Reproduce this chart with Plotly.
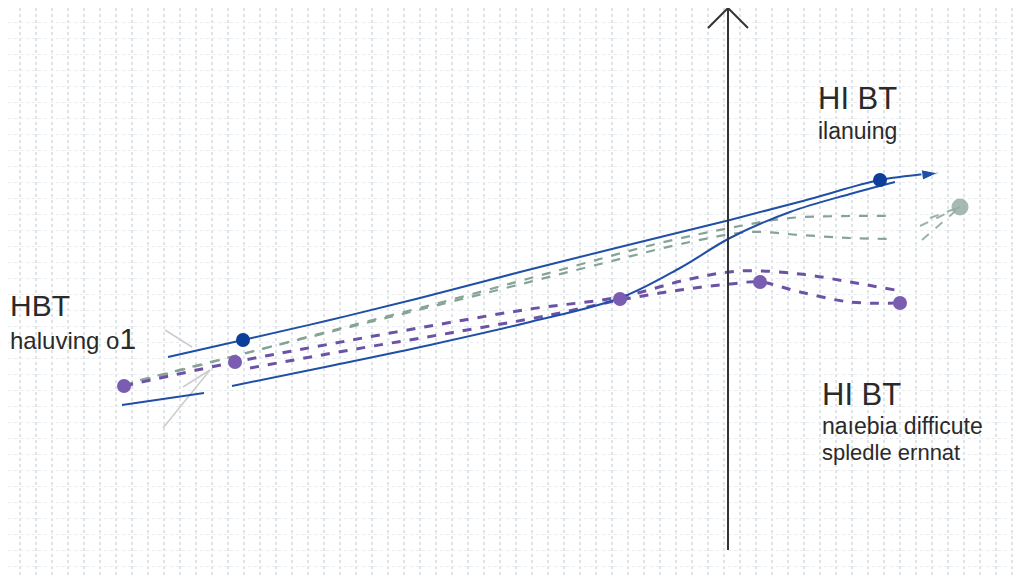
import plotly.graph_objects as go

# ---- data (x, y in chart units; y grows downward) ----
blue_upper_x = [168, 243, 330, 420, 520, 620, 730, 810, 880, 938]
blue_upper_y = [357, 340, 320, 298, 272, 247, 220, 199, 180, 173]
blue_upper_marker_x = [243, 880]
blue_upper_marker_y = [340, 180]

blue_lower_a_x = [122, 204]
blue_lower_a_y = [405, 393]
blue_lower_b_x = [232, 330, 430, 530, 620, 680, 730, 790, 850, 895]
blue_lower_b_y = [386, 366, 345, 322, 298, 268, 238, 212, 194, 182]

purple_a_x = [124, 235, 330, 430, 530, 620, 690, 740, 800, 850, 895]
purple_a_y = [386, 362, 344, 326, 309, 297, 279, 271, 274, 282, 290]
purple_b_x = [250, 350, 450, 550, 620, 680, 730, 760, 800, 850, 900]
purple_b_y = [368, 350, 333, 315, 300, 290, 284, 282, 292, 302, 303]
purple_marker_x = [124, 235, 620, 760, 900]
purple_marker_y = [386, 362, 299, 282, 303]

green_a_x = [124, 220, 330, 450, 560, 660, 740, 790, 850, 895]
green_a_y = [385, 360, 331, 300, 270, 243, 226, 218, 216, 216]
green_b_x = [140, 250, 370, 490, 600, 690, 750, 800, 850, 895]
green_b_y = [380, 352, 322, 292, 264, 242, 232, 235, 238, 239]
green_fan_x = [[922, 960], [920, 960], [930, 960]]
green_fan_y = [[240, 207], [226, 207], [218, 207]]
green_marker_x = [960]
green_marker_y = [207]

grey_ray_x = [[165, 192], [163, 210], [183, 210]]
grey_ray_y = [[330, 347], [428, 370], [387, 370]]

axis_x = [728, 728]
axis_y = [550, 8]
axis_head_x = [708, 728, 748]
axis_head_y = [28, 8, 28]

labels = [
    (8, 305, "HBT", 30),
    (8, 338, "haluving o<span style='font-size:30px'>1</span>", 24),
    (816, 98, "HI BT", 31),
    (816, 131, "ilanuing", 23),
    (820, 394, "HI BT", 31),
    (820, 426, "naıebia difficute", 23),
    (820, 452, "spledle ernnat", 22),
]

BLUE = "#1f4fa6"
BLUE_DOT = "#0b3f9a"
PURPLE = "#6b52a6"
PURPLE_DOT = "#7a5cb0"
GREEN = "#86a396"

fig = go.Figure()

# grey rays
for xs, ys in zip(grey_ray_x, grey_ray_y):
    fig.add_trace(go.Scatter(x=xs, y=ys, mode="lines",
                             line=dict(color="#cccccc", width=1.5), hoverinfo="skip"))

# green dashed
for xs, ys in [(green_a_x, green_a_y), (green_b_x, green_b_y)]:
    fig.add_trace(go.Scatter(x=xs, y=ys, mode="lines", line_shape="spline",
                             line=dict(color=GREEN, width=2.2, dash="dash"), hoverinfo="skip"))
for xs, ys in zip(green_fan_x, green_fan_y):
    fig.add_trace(go.Scatter(x=xs, y=ys, mode="lines",
                             line=dict(color="#9db3a8", width=2, dash="dash"), hoverinfo="skip"))
fig.add_trace(go.Scatter(x=green_marker_x, y=green_marker_y, mode="markers",
                         marker=dict(color="#98aea4", size=17, opacity=0.85), hoverinfo="skip"))

# purple dashed
for xs, ys in [(purple_a_x, purple_a_y), (purple_b_x, purple_b_y)]:
    fig.add_trace(go.Scatter(x=xs, y=ys, mode="lines", line_shape="spline",
                             line=dict(color=PURPLE, width=3, dash="dash"), hoverinfo="skip"))

# blue solid
fig.add_trace(go.Scatter(x=blue_upper_x, y=blue_upper_y, mode="lines", line_shape="spline",
                         line=dict(color=BLUE, width=2), hoverinfo="skip"))
fig.add_trace(go.Scatter(x=blue_upper_x[-2:], y=blue_upper_y[-2:], mode="markers",
                         marker=dict(symbol=["circle-open", "arrow"], size=[1, 17], color=BLUE,
                                     angleref="previous", opacity=1),
                         hoverinfo="skip"))
for xs, ys in [(blue_lower_a_x, blue_lower_a_y), (blue_lower_b_x, blue_lower_b_y)]:
    fig.add_trace(go.Scatter(x=xs, y=ys, mode="lines", line_shape="spline",
                             line=dict(color=BLUE, width=2), hoverinfo="skip"))

fig.add_trace(go.Scatter(x=purple_marker_x, y=purple_marker_y, mode="markers",
                         marker=dict(color=PURPLE_DOT, size=14), hoverinfo="skip"))
fig.add_trace(go.Scatter(x=blue_upper_marker_x, y=blue_upper_marker_y, mode="markers",
                         marker=dict(color=BLUE_DOT, size=14), hoverinfo="skip"))

# vertical axis arrow
fig.add_trace(go.Scatter(x=axis_x, y=axis_y, mode="lines",
                         line=dict(color="#333333", width=2), hoverinfo="skip"))
fig.add_trace(go.Scatter(x=axis_head_x, y=axis_head_y, mode="lines",
                         line=dict(color="#333333", width=2), hoverinfo="skip"))

for x, y, t, s in labels:
    fig.add_annotation(x=x, y=y, text=t, showarrow=False, xanchor="left", yanchor="middle",
                       font=dict(size=s, color="#2a2a2a", family="Liberation Sans"))

# page body has an 8px margin, so the axis ranges are offset by 8 to line up with the window
fig.update_layout(
    width=1024, height=576, margin=dict(l=0, r=0, t=0, b=0),
    paper_bgcolor="white", plot_bgcolor="white", showlegend=False,
    xaxis=dict(range=[8, 1032], showticklabels=False, zeroline=False, showline=False,
               showgrid=True, dtick=16, tick0=4, gridcolor="#dfe4e8", gridwidth=2, griddash="dot",
               fixedrange=True),
    yaxis=dict(range=[584, 8], showticklabels=False, zeroline=False, showline=False,
               showgrid=True, dtick=16, tick0=6, gridcolor="#eaedf0", gridwidth=1, griddash="dot",
               fixedrange=True),
)

fig.write_html("out.html")
